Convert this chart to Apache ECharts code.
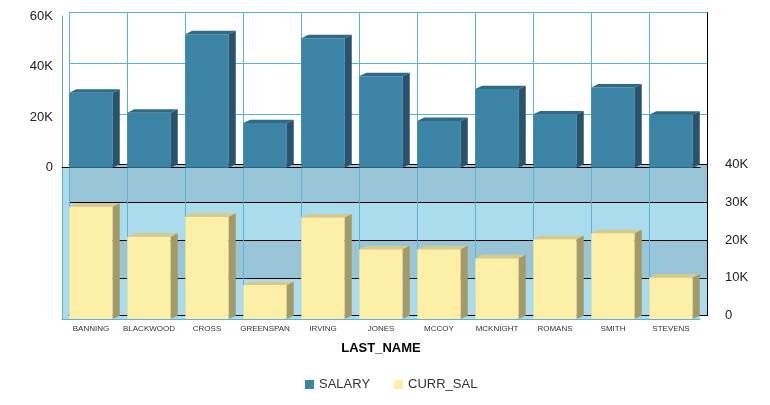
<!DOCTYPE html>
<html>
<head>
<meta charset="utf-8">
<script src="https://cdn.jsdelivr.net/npm/echarts@6/dist/echarts.min.js"></script>
<style>
  html, body { margin: 0; padding: 0; background: #fff; }
  #main { width: 770px; height: 405px; }
</style>
</head>
<body>
<div id="main"></div>
<script>
var lastNames = ['BANNING', 'BLACKWOOD', 'CROSS', 'GREENSPAN', 'IRVING', 'JONES', 'MCCOY', 'MCKNIGHT', 'ROMANS', 'SMITH', 'STEVENS'];
var salary = [29700, 21780, 52837, 17650, 51282, 36230, 18480, 31100, 21120, 31750, 21000];
var currSal = [29700, 21780, 27062, 9000, 26862, 18480, 18480, 16100, 21120, 22700, 11000];
var salaryTicks = [0, 60000, 20000];
var currSalTicks = [0, 40000, 10000];

// 3d depth offset: front face is left/down of the back wall
var DX = 7, DY = 3.4;

var kFmt = function(v) {
	return v == 0 ? '0' : (v / 1000) + 'K';
};

var toPairs = function(arr) {
	var rtn = [];
	arr.forEach(function(v, i) {
		rtn.push([i, v]);
	});
	return rtn;
};

var bar3d = function(colors) {
	return function(params, api) {
		var top = api.coord([api.value(0), api.value(1)]);
		var base = api.coord([api.value(0), 0]);
		var w = api.size([1, 0])[0] * 0.75;
		var l = top[0] - w / 2, r = top[0] + w / 2;
		var fl = l - DX, fr = r - DX, ft = top[1] + DY, fb = base[1] + DY;
		return {
			type: 'group',
			children: [
				{type: 'rect', shape: {x: fl, y: ft, width: w, height: fb - ft}, style: {fill: colors[0]}},
				{type: 'polygon', shape: {points: [[fl, ft], [fr, ft], [r, top[1]], [l, top[1]]]}, style: {fill: colors[1]}},
				{type: 'polygon', shape: {points: [[fr, ft], [r, top[1]], [r, base[1]], [fr, fb]]}, style: {fill: colors[2]}}
			]
		};
	};
};

var font = 'Arial, "Liberation Sans", sans-serif';
var teal = '#5ab4cc';

var option = {
	animation: false,
	textStyle: {fontFamily: font},
	legend: {
		bottom: 9,
		left: 300,
		icon: 'rect',
		itemWidth: 9,
		itemHeight: 9,
		itemGap: 24,
		textStyle: {fontSize: 13, color: '#333', fontFamily: font, padding: [0, 0, 0, 0]},
		data: ['SALARY', 'CURR_SAL']
	},
	grid: [
		{left: 69, top: 12.7, width: 638, height: 151.6},
		{left: 62, top: 16.1, width: 638, height: 151.6},
		{left: 69, top: 164.3, width: 638, height: 151.4, show: false},
		{left: 62, top: 167.7, width: 638, height: 151.4, show: true, backgroundColor: '#aadcee', borderWidth: 0, z: -1}
	],
	xAxis: [
		{gridIndex: 0, type: 'category', data: lastNames,
			axisLine: {show: true, lineStyle: {color: '#000'}}, axisTick: {show: false}, axisLabel: {show: false},
			splitLine: {show: true, interval: 0, lineStyle: {color: teal}}},
		{gridIndex: 1, type: 'category', data: lastNames,
			axisLine: {show: true, lineStyle: {color: '#000'}}, axisTick: {show: false}, axisLabel: {show: false}},
		{gridIndex: 2, type: 'category', data: lastNames,
			axisLine: {show: true, lineStyle: {color: '#000'}}, axisTick: {show: false}, axisLabel: {show: false},
			splitLine: {show: true, interval: 0, lineStyle: {color: teal}}},
		{gridIndex: 3, type: 'category', data: lastNames,
			axisLine: {show: true, lineStyle: {color: teal}}, axisTick: {show: false},
			axisLabel: {fontSize: 8, color: '#333', margin: 6, interval: 0},
			name: 'LAST_NAME', nameLocation: 'middle', nameGap: 23,
			nameTextStyle: {fontSize: 13, fontWeight: 'bold', color: '#000'}}
	],
	yAxis: [
		{gridIndex: 0, type: 'value', min: salaryTicks[0], max: salaryTicks[1], interval: salaryTicks[2], position: 'right',
			axisLine: {show: true, lineStyle: {color: '#000'}}, axisTick: {show: false}, axisLabel: {show: false},
			splitLine: {show: true, lineStyle: {color: teal}}},
		{gridIndex: 1, type: 'value', min: salaryTicks[0], max: salaryTicks[1], interval: salaryTicks[2], position: 'left',
			axisLine: {show: true, lineStyle: {color: '#6a9fb0'}}, axisTick: {show: false},
			axisLabel: {fontSize: 13, color: '#222', margin: 9, formatter: kFmt},
			splitLine: {show: false}},
		{gridIndex: 2, type: 'value', min: currSalTicks[0], max: currSalTicks[1], interval: currSalTicks[2], position: 'right',
			axisLine: {show: true, lineStyle: {color: '#000'}}, axisTick: {show: false},
			axisLabel: {fontSize: 13, color: '#222', margin: 18, formatter: kFmt},
			splitLine: {show: true, lineStyle: {color: '#000'}},
			splitArea: {show: true, areaStyle: {color: ['#aadcee', '#97c5d7']}}},
		{gridIndex: 3, type: 'value', min: currSalTicks[0], max: currSalTicks[1], interval: currSalTicks[2], position: 'left',
			axisLine: {show: true, lineStyle: {color: teal}}, axisTick: {show: false}, axisLabel: {show: false},
			splitLine: {show: false}}
	],
	series: [
		{
			name: 'SALARY',
			type: 'custom',
			xAxisIndex: 0,
			yAxisIndex: 0,
			itemStyle: {color: '#3c84a6'},
			renderItem: bar3d(['#3c84a6', '#2f6a86', '#27536c']),
			data: toPairs(salary)
		},
		{
			name: 'CURR_SAL',
			type: 'custom',
			xAxisIndex: 2,
			yAxisIndex: 2,
			itemStyle: {color: '#fdefa6'},
			renderItem: bar3d(['#fdefa6', '#d8c98c', '#a39a68']),
			data: toPairs(currSal)
		}
	]
};

var chart = echarts.init(document.getElementById('main'));
chart.setOption(option, true);
</script>
</body>
</html>
